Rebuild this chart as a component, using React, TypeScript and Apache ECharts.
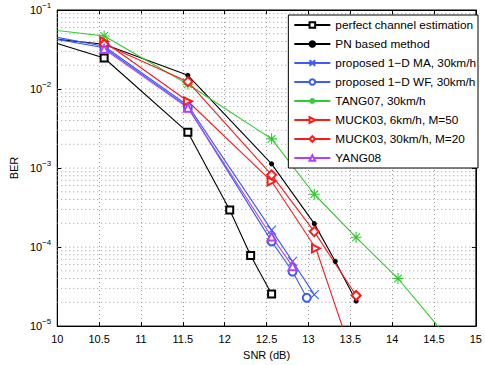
import React, { useEffect, useRef } from "react";
import * as echarts from "echarts";

const FONT = "Liberation Sans, Arial, Helvetica, sans-serif";

// SNR (dB) positions and BER values
const snrPerfect = [10, 10.56, 11.56, 12.06, 12.31, 12.56];
const berPerfect = [0.0376, 0.0247, 0.00283, 2.95e-4, 7.8e-5, 2.54e-5];

const snrPN = [10, 10.56, 11.56, 12.56, 13.07, 13.32, 13.57];
const berPN = [0.0425, 0.0369, 0.0149, 1.13e-3, 1.98e-4, 6.6e-5, 2.08e-5];

const snrMA = [10, 10.56, 11.56, 12.56, 12.81, 13.07];
const berMA = [0.045, 0.0348, 0.0062, 1.64e-4, 6.6e-5, 2.5e-5];

const snrWF = [10, 10.56, 11.56, 12.56, 12.81, 12.98];
const berWF = [0.0425, 0.0333, 0.0059, 1.18e-4, 4.9e-5, 2.28e-5];

const snrTANG = [10, 10.56, 11.56, 12.56, 13.07, 13.57, 14.07, 14.57];
const berTANG = [0.055, 0.0468, 0.0115, 2.34e-3, 4.66e-4, 1.33e-4, 4.0e-5, 9.3e-6];

const snrMUCK6 = [10.56, 11.56, 12.56, 13.09, 13.57];
const berMUCK6 = [0.04, 0.007, 6.8e-4, 9.6e-5, 3.0e-6];

const snrMUCK20 = [10.56, 11.56, 12.56, 13.07, 13.57];
const berMUCK20 = [0.0369, 0.0124, 8.2e-4, 1.57e-4, 2.44e-5];

const snrYANG = [10.56, 11.56, 12.56, 12.81];
const berYANG = [0.032, 0.00578, 1.36e-4, 5.74e-5];

const legendNames = [
  "perfect channel estimation",
  "PN based method",
  "proposed 1\u2212D MA, 30km/h",
  "proposed 1\u2212D WF, 30km/h",
  "TANG07, 30km/h",
  "MUCK03, 6km/h, M=50",
  "MUCK03, 30km/h, M=20",
  "YANG08",
];

// horizontal grid levels of the log axis (1..9 x each decade)
const gridLevels: number[] = [];
for (let d = -5; d <= -2; d++) {
  for (let k = 1; k <= 9; k++) {
    if (d === -5 && k === 1) continue;
    gridLevels.push(k * Math.pow(10, d));
  }
}
const X_MIN = 10;
const X_MAX = 15;

const BLUE = "#3c5cff";
const GREEN = "#2ecc2e";
const RED = "#ff1a1a";
const PURPLE = "#b040ff";
const GRID = "#9a9a9a";
const CLEAR = "rgba(0,0,0,0)";

const X_PATH = "path://M0,0L10,10M10,0L0,10";
const STAR_PATH = "path://M5,0L5,10M0,5L10,5M1.5,1.5L8.5,8.5M8.5,1.5L1.5,8.5";

function pairs(xs: number[], ys: number[], edgeNoSymbol: boolean) {
  return xs.map((x, i) =>
    edgeNoSymbol && i === 0 ? { value: [x, ys[i]], symbol: "none" } : { value: [x, ys[i]] }
  );
}

function mk(
  name: string,
  xs: number[],
  ys: number[],
  color: string,
  symbol: string,
  size: number,
  hollowPath: boolean,
  edge: boolean,
  rotate = 0
) {
  return {
    name,
    type: "line",
    data: pairs(xs, ys, edge),
    symbol,
    symbolSize: size,
    symbolRotate: rotate,
    showAllSymbol: true,
    clip: true,
    z: 3,
    lineStyle: { color, width: 1.1 },
    itemStyle: hollowPath
      ? { color: CLEAR, borderColor: color, borderWidth: 1.1 }
      : { color, borderColor: color, borderWidth: 1.1 },
    emphasis: { disabled: true },
  };
}

export default function App() {
  const ref = useRef<HTMLDivElement>(null);
  useEffect(() => {
    if (!ref.current) return;
    const chart = echarts.init(ref.current, undefined, { renderer: "svg" });
    const gridData: any[] = [];
    gridLevels.forEach((v) => {
      gridData.push([X_MIN, v], [X_MAX, v], [X_MAX, "-"]);
    });
    const series: any[] = [
      {
        name: "grid-h",
        type: "line",
        data: gridData,
        symbol: "none",
        silent: true,
        connectNulls: false,
        z: 1,
        lineStyle: { color: GRID, type: [1, 3], width: 1 },
        emphasis: { disabled: true },
      },
      mk(legendNames[0], snrPerfect, berPerfect, "#000000", "emptyRect", 7, false, true),
      mk(legendNames[1], snrPN, berPN, "#000000", "circle", 4, false, true),
      mk(legendNames[2], snrMA, berMA, BLUE, X_PATH, 9, true, true),
      mk(legendNames[3], snrWF, berWF, BLUE, "emptyCircle", 8, false, true),
      mk(legendNames[4], snrTANG, berTANG, GREEN, STAR_PATH, 11, true, true),
      mk(legendNames[5], snrMUCK6, berMUCK6, RED, "emptyTriangle", 8, false, false, -90),
      mk(legendNames[6], snrMUCK20, berMUCK20, RED, "emptyDiamond", 9, false, false),
      mk(legendNames[7], snrYANG, berYANG, PURPLE, "emptyTriangle", 8, false, false),
    ];
    const gridLine = { show: true, lineStyle: { color: GRID, type: [1, 3] as any, width: 1 } };
    chart.setOption({
      animation: false,
      textStyle: { fontFamily: FONT },
      grid: {
        left: 43,
        right: 7,
        top: 10,
        bottom: 32,
        show: true,
        borderColor: "#000",
        borderWidth: 1,
        backgroundColor: "#fff",
      },
      legend: {
        data: legendNames,
        orient: "vertical",
        right: 7,
        top: 15,
        backgroundColor: "#fff",
        borderColor: "#000",
        borderWidth: 1,
        borderRadius: 0,
        padding: [4, 2, 4, 5],
        itemWidth: 36,
        itemHeight: 7,
        itemGap: 7,
        textStyle: { fontFamily: FONT, fontSize: 11.8, color: "#000" },
        selectedMode: false,
      },
      xAxis: [
        {
          type: "value",
          min: X_MIN,
          max: X_MAX,
          interval: 0.5,
          name: "SNR (dB)",
          nameLocation: "middle",
          nameGap: 19,
          nameTextStyle: { fontFamily: FONT, fontSize: 11, color: "#000" },
          axisLine: { show: true, lineStyle: { color: "#000" } },
          axisTick: { show: true, inside: true, length: 4, lineStyle: { color: "#000" } },
          axisLabel: { fontFamily: FONT, fontSize: 11, color: "#000", margin: 7 },
          splitLine: gridLine,
        },
        {
          type: "value",
          position: "top",
          min: X_MIN,
          max: X_MAX,
          interval: 0.5,
          axisLine: { show: true, lineStyle: { color: "#000" } },
          axisTick: { show: true, inside: true, length: 4, lineStyle: { color: "#000" } },
          axisLabel: { show: false },
          splitLine: { show: false },
        },
      ],
      yAxis: [
        {
          type: "log",
          logBase: 10,
          min: 1e-5,
          max: 1e-1,
          name: "BER",
          nameLocation: "middle",
          nameGap: 28,
          nameTextStyle: { fontFamily: FONT, fontSize: 11, color: "#000" },
          axisLine: { show: true, lineStyle: { color: "#000" } },
          axisTick: { show: true, inside: true, length: 4, lineStyle: { color: "#000" } },
          axisLabel: {
            margin: 6,
            formatter: (v: number) => `{b|10}{s|\u2212${-Math.round(Math.log10(v))}}`,
            rich: {
              b: { fontFamily: FONT, fontSize: 11, color: "#000" },
              s: { fontFamily: FONT, fontSize: 8, color: "#000", padding: [0, 0, 10, 0] },
            },
          },
          splitLine: { show: false },
        },
        {
          type: "log",
          logBase: 10,
          min: 1e-5,
          max: 1e-1,
          position: "right",
          axisLine: { show: true, lineStyle: { color: "#000" } },
          axisTick: { show: true, inside: true, length: 4, lineStyle: { color: "#000" } },
          axisLabel: { show: false },
          splitLine: { show: false },
        },
      ],
      series,
    });
    return () => chart.dispose();
  }, []);
  return (
    <div
      ref={ref}
      style={{ position: "fixed", left: 0, top: 0, width: 485, height: 365, background: "#fff" }}
    />
  );
}
